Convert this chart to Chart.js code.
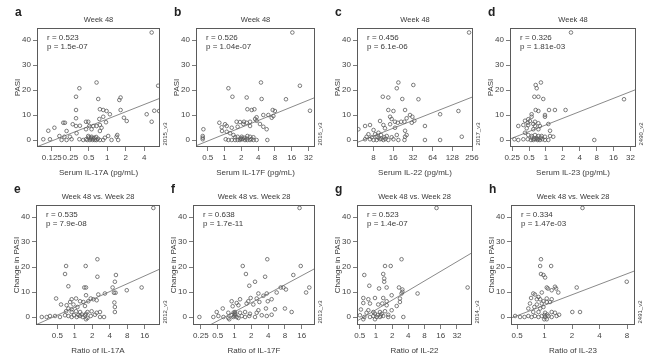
<!DOCTYPE html>
<html>
<head>
<meta charset="utf-8">
<script src="https://cdn.jsdelivr.net/npm/chart.js@4.4.0/dist/chart.umd.min.js"></script>
<style>
  html, body { margin: 0; padding: 0; background: #fff; }
  body { width: 650px; height: 358px; position: relative; overflow: hidden; }
  canvas { position: absolute; }
</style>
</head>
<body>
<script>
// x values are log2 of the concentration / ratio, y values are PASI
const ptsA = [[2.40,43],[2.75,21.7],[-0.58,23],[-1.51,20.7],[-1.69,17.3],[-0.49,16.4],[0.65,16],[0.72,17],[-1.69,12],[-0.4,12.3],[-0.22,12],[-0.04,11.6],[0.72,12],[2.54,11.7],[2.8,11.6],[2.13,10.3],[2.40,7.3],[0.9,8.9],[1.05,7.6],[0.14,10.3],[-0.22,9.3],[-0.43,8.4],[-0.07,7.1],[-1.69,8.7],[-1.15,7.3],[-1.03,7.3],[-2.29,6.9],[-2.38,6.9],[-1.87,6.3],[-1.69,5.6],[-1.48,5.7],[-0.97,5.6],[-0.76,5.6],[-0.58,5.6],[-0.4,6],[-0.31,4.9],[-0.85,4.3],[-1.15,4.3],[-2.86,4.9],[-3.19,3.7],[-2.2,3.6],[-0.4,3.6],[-1.66,2.7],[-2.59,1.6],[-2.32,1.3],[-2.02,1.3],[-1.03,1.6],[-0.85,1.3],[0.5,1.3],[0.05,1.6],[-0.13,0.9],[0.54,2.0],[-3.46,0.3],[-3.1,0.3],[-2.47,0],[-2.2,0],[-1.93,0.3],[-1.51,0.3],[-1.3,0],[-1.15,0.3],[-1.08,0],[-0.94,0],[-0.79,0],[-0.67,0],[-0.58,0],[-0.4,0],[-0.22,0],[0.23,0],[0.59,0],[-0.88,0.9],[-0.7,0.9],[-1.0,1.0],[-0.9,0.5],[-0.75,0.5],[-0.6,1.2],[-0.5,0.5]];
const ptsB = [[4.04,43],[4.49,21.7],[0.23,20.7],[2.17,23],[0.47,17.3],[1.32,17],[2.21,16.4],[3.66,16.3],[5.09,11.7],[1.36,12.3],[1.62,12],[1.78,12.3],[2.87,12],[3.0,11.6],[2.31,10],[2.61,10],[2.91,9.6],[2.81,8.9],[1.91,9.1],[1.82,8.4],[-0.31,6.9],[0.13,5.6],[0.03,6.3],[0.72,7.3],[0.92,7.2],[1.16,7.3],[1.32,6.9],[1.52,7.3],[1.12,6.4],[1.91,7.7],[2.11,6.4],[2.31,5.3],[2.51,4.3],[1.52,5.6],[0.78,5.3],[0.43,4.9],[-0.17,5.1],[-0.15,3.6],[0.13,3.3],[-1.26,4.3],[-1.3,1.6],[-1.3,0.9],[-1.3,0.3],[0.33,2.7],[0.53,2],[0.63,1.1],[0.78,1.3],[1.02,1.3],[1.36,1.6],[1.52,1.3],[1.72,1.1],[0.07,0.3],[0.23,0],[0.43,0],[0.63,0],[0.78,0],[0.92,0],[1.08,0.3],[1.22,0],[1.36,0],[1.52,0],[1.72,0],[1.91,0],[2.55,0],[0.96,0.7],[1.16,0.9],[1.0,0.4],[1.3,0.6],[1.6,0.4]];
const ptsC = [[7.85,43],[4.26,23],[4.18,20.7],[5.02,22],[4.46,16.4],[5.28,16.3],[3.47,17.3],[3.75,17],[3.75,12],[4.01,11.6],[4.6,12],[7.31,11.6],[6.38,10.3],[4.85,10],[4.97,9.3],[4.68,8.7],[3.84,9.3],[3.92,8.4],[4.09,7.3],[4.23,6.9],[4.4,7.3],[4.57,7.3],[4.94,6.9],[5.07,7.7],[5.61,5.6],[3.33,7.6],[2.82,6],[2.57,5.6],[3.5,6],[3.84,6.3],[2.23,4.3],[3.0,4],[3.58,4.7],[4.09,4.9],[4.6,3.7],[3.25,2.9],[2.74,2.3],[3.08,2.3],[3.38,2],[3.67,1.6],[4.18,2],[4.68,2],[2.65,1.3],[2.91,1.1],[3.16,1.3],[3.55,1.1],[3.92,1.1],[4.6,1.3],[7.48,1.3],[2.57,0.3],[2.82,0.3],[3.0,0],[3.16,0],[3.33,0.3],[3.5,0],[3.75,0],[4.01,0.3],[4.26,0],[4.57,0],[5.61,0],[6.38,0],[3.25,0.9],[3.4,0.5],[3.6,0.4]];
const ptsD = [[1.48,43],[4.62,16.3],[2.86,0],[-0.3,23],[-0.61,22],[-0.55,20.7],[-0.69,17.3],[-0.45,17.3],[-0.16,16.4],[-0.61,12],[-0.45,11.6],[0.18,12],[0.53,12],[1.16,12],[-0.06,10],[-0.85,10.3],[-0.06,9.3],[-0.85,9.3],[-1.05,8.3],[-1.24,7.7],[-0.95,7.6],[-0.65,7.3],[-1.08,6.9],[-0.75,6.4],[-0.45,6.7],[-1.34,6],[-1.05,6],[-0.65,5.6],[-0.36,5.6],[-1.64,5.6],[0.14,6.4],[-1.14,4.7],[-0.75,4.3],[-0.45,4.3],[0.24,3.7],[-1.24,2.9],[-1.05,2],[-0.85,1.6],[-0.65,2],[-0.45,1.6],[-0.26,1.6],[-0.06,1.3],[0.24,1.6],[0.43,1.3],[-1.87,0.3],[-1.64,0],[-1.34,0.3],[-1.08,0.3],[-0.89,0],[-0.75,0],[-0.61,0.3],[-0.49,0],[-0.36,0],[-0.22,0.3],[-0.06,0],[0.14,0],[-0.85,0.9],[-0.55,0.9],[-0.3,0.9],[-0.7,0.5],[-0.5,0.4]];
const ptsE = [[4.49,43.6],[1.29,23.1],[-0.5,20.4],[0.62,20.4],[-0.56,17.2],[1.29,16.1],[2.35,16.8],[2.29,14.1],[-0.37,12.3],[0.54,11.8],[0.64,11.8],[2.16,11.8],[3.82,11.8],[2.97,10.7],[2.24,9.7],[2.33,9.7],[1.72,9.4],[1.34,9.0],[0.64,8.7],[-1.07,7.4],[-0.79,5.0],[-0.18,7.1],[0.07,7.4],[0.91,7.4],[1.06,7.1],[1.25,6.7],[0.77,6.3],[0.49,6.0],[0.3,6.3],[2.26,5.8],[2.29,4.0],[2.29,2.0],[-0.27,6.0],[-0.47,4.7],[-0.08,5.0],[0.15,4.0],[0.58,4.4],[-0.37,3.4],[-0.18,3.1],[-0.5,2.3],[-0.18,2.0],[0.07,2.3],[0.3,2.0],[0.72,2.0],[0.96,2.3],[1.25,1.7],[1.44,2.0],[0.64,1.3],[-1.89,0],[-1.61,0],[-1.42,0.4],[-1.13,0.4],[-0.85,0],[-0.56,0.7],[-0.37,0.4],[-0.18,0],[-0.05,0.7],[0.11,0],[0.3,0.4],[0.45,0],[0.58,0.7],[0.72,-0.4],[0.91,0.4],[1.15,0.9],[1.44,0],[1.67,0],[0.64,-0.9],[0.2,0.8],[0.4,1.0]];
const ptsF = [[3.87,43.6],[1.95,23.1],[0.49,20.4],[3.94,20.4],[0.68,17.2],[1.82,16.1],[3.5,16.8],[0.88,12.5],[1.22,14.1],[2.91,11.8],[2.75,11.8],[3.06,11],[4.45,11.8],[4.26,9.8],[2.51,9.8],[1.92,9.4],[1.42,9.4],[1.72,8.5],[1.32,7.4],[0.96,7.6],[1.48,6.0],[2.21,7.1],[1.98,6.3],[0.33,7.1],[-0.17,6.3],[0.13,5.6],[-0.11,4.3],[0.23,4.7],[0.72,5.4],[0.82,6.3],[1.12,5.0],[1.87,3.4],[1.42,2.7],[2.41,3.1],[3.0,3.4],[3.4,2.0],[-0.7,3.4],[-1.06,2.0],[-0.37,1.7],[0.03,2.0],[0.33,1.7],[0.63,2.0],[0.92,1.3],[1.32,1.7],[1.62,0.7],[1.92,0.4],[2.21,0.9],[-2.09,0],[-1.26,0],[-0.96,0.4],[-0.66,0],[-0.37,-0.4],[-0.17,0.7],[-0.07,0],[0.03,0.9],[0.13,0],[0.23,-0.4],[0.43,0.4],[0.63,0],[0.88,0.4],[1.22,0],[-0.31,-0.9],[0.0,0.4],[0.05,1.3],[-0.05,1.8]];
const ptsG = [[3.74,43.6],[1.58,23.1],[-0.72,16.8],[0.56,20.4],[0.91,20.4],[0.45,17.2],[0.51,15.4],[0.51,14.1],[-0.41,12.5],[0.19,11.4],[0.66,11.8],[1.42,11.8],[5.66,11.8],[1.63,11],[1.63,10.1],[1.58,9.4],[2.57,9.4],[-0.78,7.6],[-0.47,7.1],[-0.06,7.6],[0.45,7.6],[0.66,6.3],[0.97,8.7],[1.48,7.4],[1.48,6.0],[0.39,5.4],[-0.78,5.6],[-0.37,5.4],[0.14,5.0],[0.66,4.7],[1.28,4.4],[-0.93,3.0],[-0.47,2.7],[-0.16,2.0],[0.25,2.0],[0.56,2.3],[0.97,2.7],[-0.58,1.7],[-0.06,1.3],[0.35,1.3],[0.76,0.9],[-0.99,0.7],[-0.72,0],[-0.37,0],[-0.16,0.4],[0.04,0],[0.25,0],[0.45,0.4],[0.76,0],[1.07,0],[1.69,0],[-0.78,-0.9],[-0.06,-0.9],[0.1,0.8],[0.3,0.6]];
const ptsH = [[1.38,43.6],[2.99,14.1],[-0.13,23.1],[-0.16,20.4],[0.24,20.4],[-0.13,17.2],[-0.04,16.8],[0.02,15.8],[0.08,11.8],[0.12,11.4],[0.38,12.1],[0.42,11.4],[1.17,11.8],[-0.1,9.8],[0.26,10.7],[0.5,9.8],[-0.41,9.4],[-0.35,9.0],[-0.22,8.0],[-0.49,7.6],[-0.28,7.1],[-0.16,7.1],[-0.04,6.3],[0.08,6.0],[0.2,6.0],[0.26,7.1],[0.08,7.4],[-0.53,5.4],[-0.28,5.0],[-0.1,5.4],[-0.37,4.0],[-0.59,3.4],[-0.16,3.4],[-0.04,4.0],[-0.41,2.0],[-0.22,2.0],[0.02,1.7],[0.26,2.0],[0.38,1.7],[1.01,2.0],[1.29,2.0],[-1.07,0.4],[-0.89,0],[-0.73,0],[-0.59,0.4],[-0.47,0],[-0.35,0.4],[-0.22,0],[-0.1,0.4],[0.02,0],[0.14,0.4],[0.26,0],[0.44,0.4],[0.53,0.9],[-0.01,-0.9],[0.08,-0.9],[0,0.8],[0.1,1.0]];

// regression line end points (log2 x, PASI)
const fitA = [[-3.8,-2.7],[2.85,16.7]];
const fitB = [[-1.7,-2.3],[5.39,17]];
const fitC = [[2.16,-1.0],[8.05,17.3]];
const fitD = [[-2.13,0.4],[5.33,20.2]];
const fitE = [[-2.22,-3.1],[4.87,19.2]];
const fitF = [[-1.46,-3.2],[4.79,19.4]];
const fitG = [[-1.17,-1.6],[5.93,25.7]];
const fitH = [[-1.22,-0.4],[3.29,18.5]];

// tick labels
const ticksA = [0.125, 0.25, 0.5, 1, 2, 4];
const ticksB = [0.5, 1, 2, 4, 8, 16, 32];
const ticksC = [8, 16, 32, 64, 128, 256];
const ticksD = [0.25, 0.5, 1, 2, 4, 8, 16, 32];
const ticksE = [0.5, 1, 2, 4, 8, 16];
const ticksF = [0.25, 0.5, 1, 2, 4, 8, 16];
const ticksG = [0.5, 1, 2, 4, 8, 16, 32];
const ticksH = [0.5, 1, 2, 4, 8];
const yTicks = [0, 10, 20, 30, 40];

const stats = {
  a: ["r = 0.523", "p = 1.5e-07"], b: ["r = 0.526", "p = 1.04e-07"],
  c: ["r = 0.456", "p = 6.1e-06"], d: ["r = 0.326", "p = 1.81e-03"],
  e: ["r = 0.535", "p = 7.9e-08"], f: ["r = 0.638", "p = 1.7e-11"],
  g: ["r = 0.523", "p = 1.4e-07"], h: ["r = 0.334", "p = 1.47e-03"]
};

const FONT = '"Liberation Sans", Arial, sans-serif';
const INK = "#3a3a3a";

// layout of each panel (page pixels of the plot box)
const panels = [
  { id: "a", pts: ptsA, fit: fitA, ticks: ticksA, L: 37, R: 160, T: 28, B: 147, xmin: -3.8, xmax: 2.85, ymin: -2.8, ymax: 44.8,
    title: "Week 48", xTitle: "Serum IL-17A (pg/mL)", yTitle: "PASI", side: "2015_v3" },
  { id: "b", pts: ptsB, fit: fitB, ticks: ticksB, L: 196, R: 315, T: 28, B: 147, xmin: -1.7, xmax: 5.39, ymin: -2.8, ymax: 44.8,
    title: "Week 48", xTitle: "Serum IL-17F (pg/mL)", yTitle: "PASI", side: "2016_v3" },
  { id: "c", pts: ptsC, fit: fitC, ticks: ticksC, L: 357, R: 473, T: 28, B: 147, xmin: 2.16, xmax: 8.05, ymin: -2.8, ymax: 44.8,
    title: "Week 48", xTitle: "Serum IL-22 (pg/mL)", yTitle: "PASI", side: "2017_v3" },
  { id: "d", pts: ptsD, fit: fitD, ticks: ticksD, L: 510, R: 636, T: 28, B: 147, xmin: -2.13, xmax: 5.33, ymin: -2.8, ymax: 44.8,
    title: "Week 48", xTitle: "Serum IL-23 (pg/mL)", yTitle: "PASI", side: "2490_v2" },
  { id: "e", pts: ptsE, fit: fitE, ticks: ticksE, L: 36, R: 160, T: 205, B: 325, xmin: -2.22, xmax: 4.87, ymin: -3.2, ymax: 44.8,
    title: "Week 48 vs. Week 28", xTitle: "Ratio of IL-17A", yTitle: "Change in PASI", side: "2012_v3" },
  { id: "f", pts: ptsF, fit: fitF, ticks: ticksF, L: 193, R: 315, T: 205, B: 325, xmin: -2.47, xmax: 4.79, ymin: -3.2, ymax: 44.8,
    title: "Week 48 vs. Week 28", xTitle: "Ratio of IL-17F", yTitle: "Change in PASI", side: "2013_v3" },
  { id: "g", pts: ptsG, fit: fitG, ticks: ticksG, L: 357, R: 472, T: 205, B: 325, xmin: -1.17, xmax: 5.93, ymin: -3.2, ymax: 44.8,
    title: "Week 48 vs. Week 28", xTitle: "Ratio of IL-22", yTitle: "Change in PASI", side: "2014_v3" },
  { id: "h", pts: ptsH, fit: fitH, ticks: ticksH, L: 511, R: 635, T: 205, B: 325, xmin: -1.22, xmax: 3.29, ymin: -3.2, ymax: 44.8,
    title: "Week 48 vs. Week 28", xTitle: "Ratio of IL-23", yTitle: "Change in PASI", side: "2491_v2" }
];

// box, titles, labels drawn around the plot area
const decor = {
  id: "decor",
  afterDraw(chart) {
    const p = chart.options.plugins.decor.panel;
    const { ctx, chartArea: ca } = chart;
    const cx = (ca.left + ca.right) / 2;
    ctx.save();
    ctx.strokeStyle = "#5a5a5a";
    ctx.lineWidth = 1;
    ctx.strokeRect(ca.left + 0.5, ca.top + 0.5, ca.right - ca.left - 1, ca.bottom - ca.top - 1);

    ctx.fillStyle = INK;
    ctx.textBaseline = "middle";

    ctx.font = "bold 12px " + FONT;
    ctx.textAlign = "left";
    ctx.fillStyle = "#222";
    ctx.fillText(p.id, ca.left - 22, ca.top - 15);
    ctx.fillStyle = INK;

    ctx.font = "7.5px " + FONT;
    ctx.textAlign = "center";
    ctx.fillText(p.title, cx, ca.top - 8);

    ctx.font = "8px " + FONT;
    ctx.fillText(p.xTitle, cx, ca.bottom + 26);

    ctx.textAlign = "left";
    ctx.fillText(stats[p.id][0], ca.left + 10, ca.top + 10);
    ctx.fillText(stats[p.id][1], ca.left + 10, ca.top + 19);

    ctx.save();
    ctx.translate(ca.left - 19, (ca.top + ca.bottom) / 2);
    ctx.rotate(-Math.PI / 2);
    ctx.textAlign = "center";
    ctx.fillText(p.yTitle, 0, 0);
    ctx.restore();

    ctx.save();
    ctx.font = "6px " + FONT;
    ctx.translate(ca.right + 5, ca.bottom - 13);
    ctx.rotate(-Math.PI / 2);
    ctx.textAlign = "center";
    ctx.fillText(p.side, 0, 0);
    ctx.restore();

    ctx.restore();
  }
};

panels.forEach(p => {
  const cv = document.createElement("canvas");
  const w = p.R - p.L + 55, h = p.B - p.T + 60;
  cv.width = w;
  cv.height = h;
  cv.style.left = (p.L - 40) + "px";
  cv.style.top = (p.T - 30) + "px";
  cv.style.width = w + "px";
  cv.style.height = h + "px";
  document.body.appendChild(cv);

  const tickFont = { family: FONT, size: 8 };
  const grid = { display: true, drawOnChartArea: false, drawTicks: true, tickLength: 4, color: "#5a5a5a", lineWidth: 0.8 };

  new Chart(cv, {
    type: "scatter",
    data: {
      datasets: [
        {
          data: p.pts.map(d => ({ x: d[0], y: d[1] })),
          pointStyle: "circle",
          pointRadius: 1.8,
          borderColor: "#5c5c5c",
          borderWidth: 0.8,
          backgroundColor: "rgba(0,0,0,0)"
        },
        {
          type: "line",
          data: p.fit.map(d => ({ x: d[0], y: d[1] })),
          borderColor: "#8a8a8a",
          borderWidth: 1,
          pointRadius: 0,
          fill: false
        }
      ]
    },
    options: {
      responsive: false,
      animation: false,
      devicePixelRatio: 1,
      layout: { padding: { left: 0, top: 30, right: 15, bottom: 0 } },
      plugins: {
        legend: { display: false },
        tooltip: { enabled: false },
        decor: { panel: p }
      },
      scales: {
        x: {
          type: "linear",
          min: p.xmin,
          max: p.xmax,
          grid: grid,
          border: { display: false },
          afterBuildTicks: s => { s.ticks = p.ticks.map(v => ({ value: Math.log2(v) })); },
          afterFit: s => { s.height = 30; s.paddingLeft = 0; s.paddingRight = 0; },
          ticks: {
            font: tickFont, color: "#444", padding: 2, maxRotation: 0, autoSkip: false,
            callback: (v, i) => String(p.ticks[i])
          }
        },
        y: {
          min: p.ymin,
          max: p.ymax,
          grid: grid,
          border: { display: false },
          afterBuildTicks: s => { s.ticks = yTicks.map(v => ({ value: v })); },
          afterFit: s => { s.width = 40; s.paddingTop = 0; s.paddingBottom = 0; },
          ticks: {
            font: tickFont, color: "#444", padding: 2, autoSkip: false,
            callback: v => String(v)
          }
        }
      }
    },
    plugins: [decor]
  });
});
</script>
</body>
</html>
